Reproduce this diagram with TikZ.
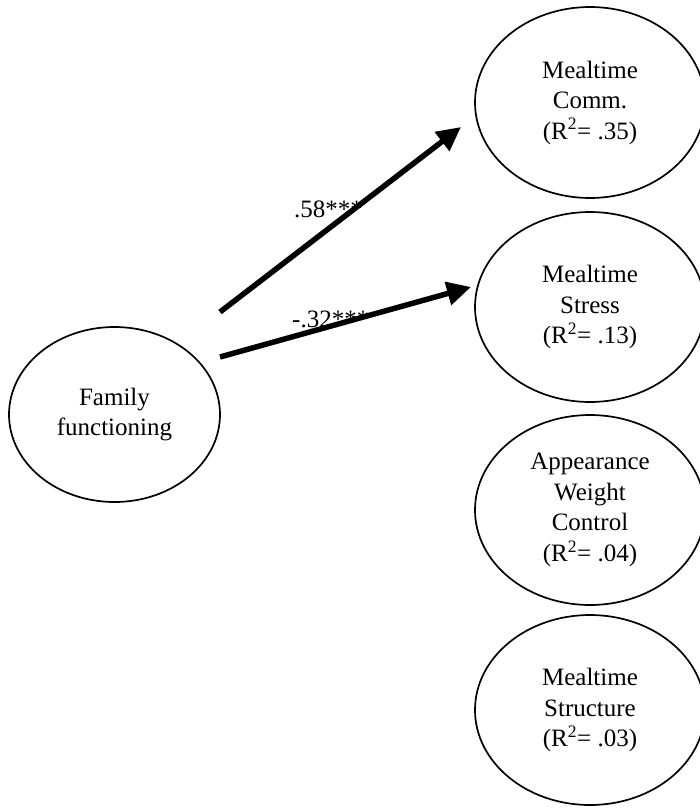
\documentclass[tikz,border=0pt]{standalone}
\usepackage{fontspec}
\setmainfont{Liberation Serif}
\usetikzlibrary{arrows.meta,shapes.geometric}
\begin{document}
\begin{tikzpicture}[x=1pt,y=-1pt,
  latent/.style={draw,ellipse,line width=1.7pt,inner sep=0pt,align=center,
    font=\fontsize{25}{30.5}\selectfont},
  path/.style={line width=5.5pt,-{Triangle[length=24pt,width=23pt]}},
  coef/.style={font=\fontsize{25}{29}\selectfont,anchor=base west,inner sep=0pt}]
\useasboundingbox (0,0) rectangle (699,808);
\node[latent,minimum width=211pt,minimum height=175pt] (fam) at (114.5,414.5) {Family\\functioning};
\node[latent,minimum width=230pt,minimum height=191pt] (comm) at (590,102.5) {Mealtime\\Comm.\\(R\textsuperscript{2}= .35)};
\node[latent,minimum width=230pt,minimum height=190pt] (stress) at (590,307) {Mealtime\\Stress\\(R\textsuperscript{2}= .13)};
\node[latent,minimum width=230pt,minimum height=190pt] (app) at (590,510) {Appearance\\Weight\\Control\\(R\textsuperscript{2}= .04)};
\node[latent,minimum width=230pt,minimum height=190pt] (struct) at (590,710) {Mealtime\\Structure\\(R\textsuperscript{2}= .03)};
\node[coef] (l1) at (294,217) {.58***};
\node[coef] (l2) at (292,327) {-.32***};
\coordinate (s1) at (220,312);
\coordinate (t1) at (461,127);
\coordinate (s2) at (220,357);
\coordinate (t2) at (471,287);
\draw[path] (s1) -- (t1);
\draw[path] (s2) -- (t2);
\end{tikzpicture}
\end{document}
